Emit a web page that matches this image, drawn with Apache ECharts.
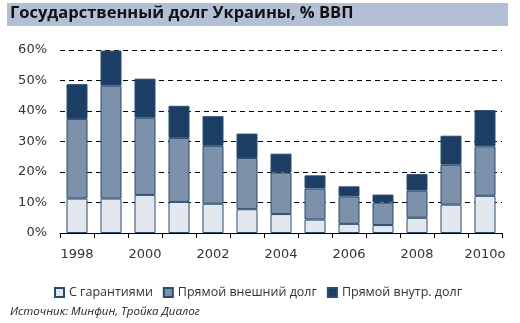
<!DOCTYPE html>
<html><head><meta charset="utf-8">
<script src="https://cdn.jsdelivr.net/npm/echarts@6/dist/echarts.min.js"></script>
<style>html,body{margin:0;padding:0;background:#fff}#c{width:520px;height:323px}</style>
</head><body><div id="c"></div>
<script>
const categories = ['1998','1999','2000','2001','2002','2003','2004','2005','2006','2007','2008','2009','2010o'];
const guarantees = [11.3, 11.3, 12.5, 10.2, 9.6, 7.8, 6.2, 4.4, 3.0, 2.6, 5.0, 9.3, 12.2];
const externalDirect = [26.1, 37.0, 25.3, 21.0, 19.0, 16.8, 13.6, 10.2, 9.0, 7.4, 8.9, 13.1, 16.2];
const domesticDirect = [11.4, 11.5, 12.8, 10.5, 9.7, 8.0, 6.2, 4.3, 3.3, 2.6, 5.4, 9.5, 11.9];
const yTicks = ['0%','10%','20%','30%','40%','50%','60%'];
const seriesNames = ['С гарантиями','Прямой внешний долг','Прямой внутр. долг'];

const font = '"Open Sans", "DejaVu Sans", sans-serif';
const axisFont = '"DejaVu Sans", sans-serif';
const chart = echarts.init(document.getElementById('c'));
const mk = (name, data, color) => ({
  name, type: 'bar', stack: 'total', data, barWidth: 21,
  itemStyle: { color, borderColor: '#2a4a70', borderWidth: 1 }
});
chart.setOption({
  animation: false,
  graphic: [
    { type: 'rect', left: 7, top: 3, shape: { width: 501, height: 23 }, style: { fill: '#b3bfd5' }, z: 0 },
    { type: 'text', left: 10, top: 5, style: { text: 'Государственный долг Украины, % ВВП', fontFamily: font, fontSize: 16.5, fontWeight: 'bold', fill: '#111' }, z: 1 },
    { type: 'text', left: 10, top: 306, style: { text: 'Источник: Минфин, Тройка Диалог', fontFamily: font, fontSize: 11.5, fontStyle: 'italic', fill: '#222' } }
  ],
  grid: { left: 60, right: 18, top: 50, bottom: 90, containLabel: false },
  legend: {
    left: 49, top: 281, itemWidth: 9, itemHeight: 9, itemGap: 10,
    icon: 'rect',
    textStyle: { fontFamily: font, fontSize: 12.5, color: '#333' },
    data: seriesNames
  },
  xAxis: {
    type: 'category', data: categories,
    axisLine: { lineStyle: { color: '#000', width: 1 } },
    axisTick: { show: true, interval: 0, length: 5, lineStyle: { color: '#000' } },
    axisLabel: { interval: 1, margin: 15, fontFamily: axisFont, fontSize: 13, color: '#333' }
  },
  yAxis: {
    type: 'value', min: 0, max: 60, interval: 10,
    axisLine: { show: false }, axisTick: { show: false },
    axisLabel: { formatter: v => yTicks[Math.round(v / 10)], margin: 13, fontFamily: axisFont, fontSize: 13, color: '#333' },
    splitLine: { lineStyle: { color: '#000', type: [5, 4], width: 1 } }
  },
  series: [
    mk(seriesNames[0], guarantees, '#e3e8ef'),
    mk(seriesNames[1], externalDirect, '#7d91aa'),
    mk(seriesNames[2], domesticDirect, '#1c3e65')
  ]
});
</script></body></html>
